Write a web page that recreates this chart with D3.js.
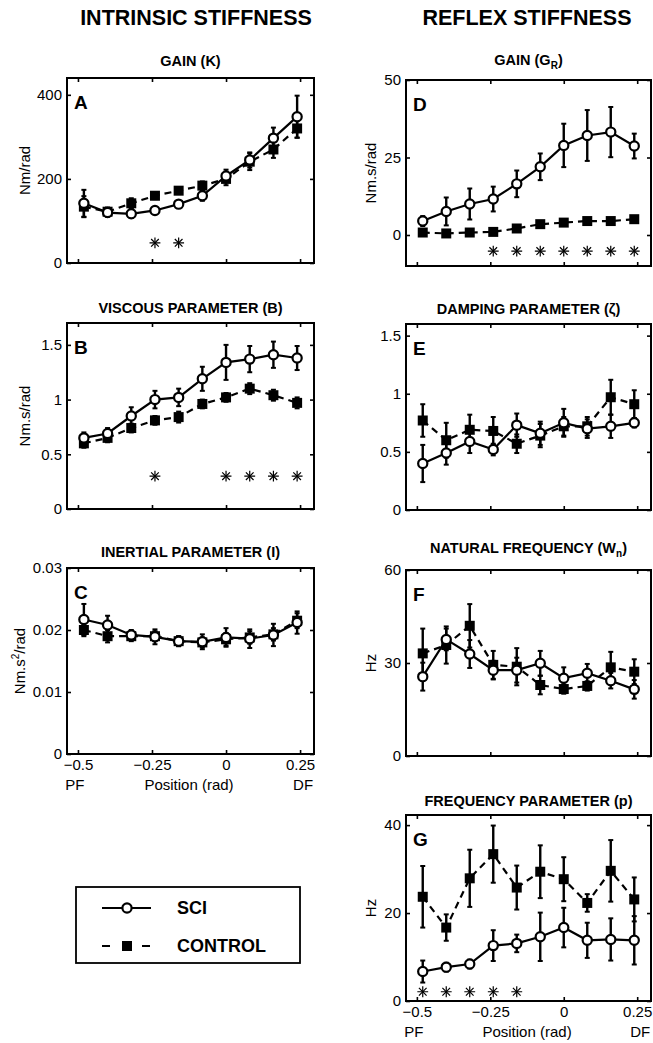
<!DOCTYPE html>
<html>
<head>
<meta charset="utf-8">
<script src="https://cdn.jsdelivr.net/npm/d3@7"></script>
<style>
  body { margin: 0; background: #fff; }
  text { font-family: "Liberation Sans", Arial, Helvetica, sans-serif; fill: #000; }
</style>
</head>
<body>
<div id="chart"></div>
<script>
// positions along the ankle range (rad), same for every panel
var positions = [-0.48, -0.40, -0.32, -0.24, -0.16, -0.08, 0, 0.08, 0.16, 0.24];
var xTicks = [-0.5, -0.25, 0, 0.25];
var seriesNames = ["SCI", "CONTROL"];
var columnTitles = ["INTRINSIC STIFFNESS", "REFLEX STIFFNESS"];
var xLabels = ["PF", "Position (rad)", "DF"];

// A - intrinsic gain K
var gainK_sci = [142, 120, 117, 125, 140, 160, 207, 245, 297, 348];
var gainK_sciErr = [32, 10, 10, 8, 8, 12, 15, 18, 25, 50];
var gainK_ctrl = [134, 122, 142, 160, 172, 184, 200, 241, 270, 320];
var gainK_ctrlErr = [25, 10, 12, 8, 8, 10, 15, 20, 20, 22];
var gainK_stars = [3, 4];
var gainK_ticks = [0, 200, 400];

// B - viscous parameter
var visc_sci = [0.65, 0.69, 0.85, 1.00, 1.02, 1.19, 1.34, 1.37, 1.41, 1.38];
var visc_sciErr = [0.05, 0.05, 0.08, 0.08, 0.08, 0.11, 0.16, 0.12, 0.12, 0.11];
var visc_ctrl = [0.60, 0.65, 0.74, 0.81, 0.84, 0.96, 1.02, 1.10, 1.04, 0.97];
var visc_ctrlErr = [0.04, 0.04, 0.04, 0.04, 0.05, 0.04, 0.04, 0.05, 0.05, 0.05];
var visc_stars = [3, 6, 7, 8, 9];
var visc_ticks = [0, 0.5, 1, 1.5];

// C - inertial parameter
var inert_sci = [0.0217, 0.0208, 0.0192, 0.0189, 0.0182, 0.0181, 0.0188, 0.0186, 0.0192, 0.0212];
var inert_sciErr = [0.0025, 0.0015, 0.0008, 0.0012, 0.0008, 0.0012, 0.0015, 0.0015, 0.0018, 0.0018];
var inert_ctrl = [0.0200, 0.0190, 0.0190, 0.0190, 0.0182, 0.0180, 0.0185, 0.0188, 0.0193, 0.0215];
var inert_ctrlErr = [0.0010, 0.0010, 0.0008, 0.0008, 0.0008, 0.0008, 0.0010, 0.0010, 0.0010, 0.0012];
var inert_stars = [];
var inert_ticks = [0, 0.01, 0.02, 0.03];

// D - reflex gain GR
var gainR_sci = [4.5, 7.6, 10.0, 11.6, 16.5, 22.0, 28.9, 32.1, 33.2, 28.7];
var gainR_sciErr = [1.6, 4.5, 5.0, 4.0, 4.3, 4.3, 7.0, 8.2, 8.1, 4.0];
var gainR_ctrl = [0.8, 0.5, 0.8, 1.0, 2.1, 3.5, 4.0, 4.5, 4.5, 5.1];
var gainR_ctrlErr = [0.6, 0.5, 0.5, 0.6, 0.7, 0.7, 0.8, 0.8, 0.8, 0.8];
var gainR_stars = [3, 4, 5, 6, 7, 8, 9];
var gainR_ticks = [0, 25, 50];

// E - damping parameter
var damp_sci = [0.40, 0.49, 0.59, 0.52, 0.73, 0.66, 0.75, 0.70, 0.72, 0.75];
var damp_sciErr = [0.16, 0.10, 0.10, 0.05, 0.10, 0.10, 0.12, 0.08, 0.10, 0.04];
var damp_ctrl = [0.77, 0.60, 0.69, 0.68, 0.57, 0.64, 0.72, 0.72, 0.97, 0.91];
var damp_ctrlErr = [0.14, 0.15, 0.13, 0.12, 0.08, 0.10, 0.08, 0.08, 0.15, 0.12];
var damp_stars = [];
var damp_ticks = [0, 0.5, 1, 1.5];

// F - natural frequency
var wn_sci = [25.6, 37.6, 32.9, 27.7, 27.7, 29.9, 25.1, 26.7, 24.3, 21.5];
var wn_sciErr = [4.5, 3.5, 4.5, 3.0, 4.0, 4.0, 3.5, 3.0, 2.5, 3.0];
var wn_ctrl = [33.1, 35.8, 42.0, 29.4, 28.8, 22.9, 21.6, 22.6, 28.6, 27.2];
var wn_ctrlErr = [8.0, 6.0, 7.0, 4.5, 6.0, 3.0, 1.5, 1.5, 5.0, 4.0];
var wn_stars = [];
var wn_ticks = [0, 30, 60];

// G - frequency parameter p
var freqP_sci = [6.7, 7.7, 8.4, 12.6, 13.1, 14.6, 16.7, 13.8, 14.0, 13.8];
var freqP_sciErr = [2.5, 1.0, 1.0, 3.5, 2.0, 5.5, 4.5, 4.0, 4.8, 5.5];
var freqP_ctrl = [23.7, 16.7, 27.9, 33.4, 25.8, 29.4, 27.7, 22.3, 29.6, 23.1];
var freqP_ctrlErr = [7.0, 3.0, 6.5, 6.5, 5.0, 6.0, 5.0, 2.0, 7.0, 5.0];
var freqP_stars = [0, 1, 2, 3, 4];
var freqP_ticks = [0, 20, 40];

// layout
var svgWidth = 653, svgHeight = 1043;
var leftCol = { x0: 67, x1: 314, ylabX: 25 };
var rightCol = { x0: 406, x1: 651, ylabX: 371 };
var xDomain = [-0.537, 0.297];

var svg = d3.select("#chart").append("svg")
    .attr("width", svgWidth)
    .attr("height", svgHeight);

var panels = [
  { letter: "A", col: leftCol, top: 78, bottom: 263, yDomain: [0, 440], yTicks: gainK_ticks,
    title: [["GAIN (K)"]], titleDy: 12, ylabel: [["Nm/rad"]],
    sci: gainK_sci, sciErr: gainK_sciErr, ctrl: gainK_ctrl, ctrlErr: gainK_ctrlErr, stars: gainK_stars, starY: 48 },
  { letter: "B", col: leftCol, top: 323, bottom: 509, yDomain: [0, 1.7], yTicks: visc_ticks,
    title: [["VISCOUS PARAMETER (B)"]], titleDy: 10, ylabel: [["Nm.s/rad"]],
    sci: visc_sci, sciErr: visc_sciErr, ctrl: visc_ctrl, ctrlErr: visc_ctrlErr, stars: visc_stars, starY: 0.3 },
  { letter: "C", col: leftCol, top: 568, bottom: 754, yDomain: [0, 0.03], yTicks: inert_ticks,
    title: [["INERTIAL PARAMETER (I)"]], titleDy: 11, ylabel: [["Nm.s"], ["2", "sup"], ["/rad"]], ylabX: 20,
    sci: inert_sci, sciErr: inert_sciErr, ctrl: inert_ctrl, ctrlErr: inert_ctrlErr, stars: inert_stars, xLabels: true },
  { letter: "D", col: rightCol, top: 80, bottom: 266, yDomain: [-10, 50], yTicks: gainR_ticks,
    title: [["GAIN (G"], ["R", "sub"], [")"]], titleDy: 15, ylabel: [["Nm.s/rad"]],
    sci: gainR_sci, sciErr: gainR_sciErr, ctrl: gainR_ctrl, ctrlErr: gainR_ctrlErr, stars: gainR_stars, starY: -5.2 },
  { letter: "E", col: rightCol, top: 324, bottom: 510, yDomain: [0, 1.6], yTicks: damp_ticks,
    title: [["DAMPING PARAMETER (\u03B6)"]], titleDy: 10, ylabel: null,
    sci: damp_sci, sciErr: damp_sciErr, ctrl: damp_ctrl, ctrlErr: damp_ctrlErr, stars: damp_stars },
  { letter: "F", col: rightCol, top: 570, bottom: 756, yDomain: [0, 60], yTicks: wn_ticks,
    title: [["NATURAL FREQUENCY (W"], ["n", "sub"], [")"]], titleDy: 17, ylabel: [["Hz"]],
    sci: wn_sci, sciErr: wn_sciErr, ctrl: wn_ctrl, ctrlErr: wn_ctrlErr, stars: wn_stars },
  { letter: "G", col: rightCol, top: 815, bottom: 1001, yDomain: [0, 42.3], yTicks: freqP_ticks,
    title: [["FREQUENCY PARAMETER (p)"]], titleDy: 9, ylabel: [["Hz"]],
    sci: freqP_sci, sciErr: freqP_sciErr, ctrl: freqP_ctrl, ctrlErr: freqP_ctrlErr, stars: freqP_stars, starY: 2.1, xLabels: true }
];

// plain number labels, no padded zeros, true minus sign
var fmtNum = function(d) { return (d < 0 ? "\u2212" : "") + String(Math.abs(d)); };

// column headers
svg.selectAll(".colTitle")
   .data(columnTitles)
   .enter().append("text")
   .attr("x", function(d, i) { return i === 0 ? 196 : 527; })
   .attr("y", 25)
   .attr("text-anchor", "middle")
   .attr("font-size", "21.5px")
   .attr("font-weight", "bold")
   .text(function(d) { return d; });

function addParts(textSel, parts, small) {
  parts.forEach(function(p, k) {
    var ts = textSel.append("tspan").text(p[0]);
    if (p[1] === "sub") ts.attr("dy", 4).attr("font-size", small);
    else if (p[1] === "sup") ts.attr("dy", -6).attr("font-size", small);
    else if (k > 0 && parts[k - 1][1] === "sub") ts.attr("dy", -4);
    else if (k > 0 && parts[k - 1][1] === "sup") ts.attr("dy", 6);
  });
}

panels.forEach(function(p) {
  var xScale = d3.scaleLinear().domain(xDomain).range([p.col.x0, p.col.x1]);
  var yScale = d3.scaleLinear().domain(p.yDomain).range([p.bottom, p.top]);
  var g = svg.append("g");
  var midX = (p.col.x0 + p.col.x1) / 2;

  // title
  var t = g.append("text")
    .attr("x", midX).attr("y", p.top - p.titleDy)
    .attr("text-anchor", "middle")
    .attr("font-size", "14.5px").attr("font-weight", "bold");
  addParts(t, p.title, "10px");

  // axes, ticks inward on all four sides
  var bottomAxis = d3.axisBottom(xScale).tickValues(xTicks).tickSizeInner(-4).tickSizeOuter(0).tickPadding(5)
      .tickFormat(p.xLabels ? fmtNum : "");
  var topAxis = d3.axisTop(xScale).tickValues(xTicks).tickSizeInner(-4).tickSizeOuter(0).tickFormat("");
  var leftAxis = d3.axisLeft(yScale).tickValues(p.yTicks).tickSizeInner(-4).tickSizeOuter(0).tickPadding(5)
      .tickFormat(fmtNum);
  var rightAxis = d3.axisRight(yScale).tickValues(p.yTicks).tickSizeInner(-4).tickSizeOuter(0).tickFormat("");

  var axes = [
    [bottomAxis, "translate(0," + p.bottom + ")"],
    [topAxis, "translate(0," + p.top + ")"],
    [leftAxis, "translate(" + p.col.x0 + ",0)"],
    [rightAxis, "translate(" + p.col.x1 + ",0)"]
  ];
  axes.forEach(function(a) {
    var ag = g.append("g").attr("transform", a[1]).call(a[0]);
    ag.select(".domain").remove();
    ag.selectAll("line").attr("stroke", "#000").attr("stroke-width", 1.6);
    ag.selectAll("text")
      .attr("font-family", "'Liberation Sans', Arial, sans-serif")
      .attr("font-size", "15px")
      .attr("fill", "#000");
  });

  // frame
  g.append("rect")
    .attr("x", p.col.x0).attr("y", p.top)
    .attr("width", p.col.x1 - p.col.x0).attr("height", p.bottom - p.top)
    .attr("fill", "none").attr("stroke", "#000").attr("stroke-width", 2);

  // panel letter
  g.append("text")
    .attr("x", p.col.x0 + 7).attr("y", p.top + 31)
    .attr("font-size", "19px").attr("font-weight", "bold")
    .text(p.letter);

  // y label
  if (p.ylabel) {
    var yl = g.append("text")
      .attr("transform", "translate(" + (p.ylabX || p.col.ylabX) + "," + ((p.top + p.bottom) / 2) + ") rotate(-90)")
      .attr("text-anchor", "middle")
      .attr("dy", "0.35em")
      .attr("font-size", "15px");
    addParts(yl, p.ylabel, "10px");
  }

  // x labels under bottom panels
  if (p.xLabels) {
    g.selectAll(".xlab")
      .data(xLabels)
      .enter().append("text")
      .attr("x", function(d, i) {
        return i === 0 ? xScale(-0.5) - 3 : i === 1 ? xScale(-0.125) : xScale(0.25) + 3;
      })
      .attr("y", p.bottom + 36)
      .attr("text-anchor", "middle")
      .attr("font-size", "15px")
      .text(function(d) { return d; });
  }

  var series = [
    { vals: p.ctrl, errs: p.ctrlErr, dash: "7,5", kind: "square" },
    { vals: p.sci, errs: p.sciErr, dash: null, kind: "circle" }
  ];

  series.forEach(function(s) {
    var line = d3.line()
      .x(function(d, i) { return xScale(positions[i]); })
      .y(function(d) { return yScale(d); });

    g.append("path")
      .datum(s.vals)
      .attr("d", line)
      .attr("fill", "none")
      .attr("stroke", "#000")
      .attr("stroke-width", 2.2)
      .attr("stroke-dasharray", s.dash);

    var eb = g.append("g").selectAll("g")
      .data(s.vals)
      .enter().append("g");
    eb.append("line")
      .attr("x1", function(d, i) { return xScale(positions[i]); })
      .attr("x2", function(d, i) { return xScale(positions[i]); })
      .attr("y1", function(d, i) { return yScale(d - s.errs[i]); })
      .attr("y2", function(d, i) { return yScale(d + s.errs[i]); })
      .attr("stroke", "#000").attr("stroke-width", 2.4);
    [-1, 1].forEach(function(sign) {
      eb.append("line")
        .attr("x1", function(d, i) { return xScale(positions[i]) - 2.5; })
        .attr("x2", function(d, i) { return xScale(positions[i]) + 2.5; })
        .attr("y1", function(d, i) { return yScale(d + sign * s.errs[i]); })
        .attr("y2", function(d, i) { return yScale(d + sign * s.errs[i]); })
        .attr("stroke", "#000").attr("stroke-width", 2);
    });

    if (s.kind === "circle") {
      g.selectAll(null)
        .data(s.vals)
        .enter().append("circle")
        .attr("cx", function(d, i) { return xScale(positions[i]); })
        .attr("cy", function(d) { return yScale(d); })
        .attr("r", 4.6)
        .attr("fill", "#fff")
        .attr("stroke", "#000")
        .attr("stroke-width", 2.2);
    } else {
      g.selectAll(null)
        .data(s.vals)
        .enter().append("path")
        .attr("transform", function(d, i) { return "translate(" + xScale(positions[i]) + "," + yScale(d) + ")"; })
        .attr("d", d3.symbol(d3.symbolSquare, 100))
        .attr("fill", "#000");
    }
  });

  // significance stars (8-armed asterisks)
  var star = d3.symbol(d3.symbolTimes, 40);
  p.stars.forEach(function(idx) {
    [0, 45].forEach(function(rot) {
      g.append("path")
        .attr("transform", "translate(" + xScale(positions[idx]) + "," + yScale(p.starY) + ") rotate(" + rot + ")")
        .attr("d", star)
        .attr("fill", "none")
        .attr("stroke", "#000")
        .attr("stroke-width", 1.2);
    });
  });
});

// legend
var legend = svg.append("g");
legend.append("rect")
  .attr("x", 76).attr("y", 887).attr("width", 224).attr("height", 76)
  .attr("fill", "none").attr("stroke", "#000").attr("stroke-width", 1.8);

var legY = [908, 946];
seriesNames.forEach(function(name, i) {
  var y = legY[i];
  legend.append("line")
    .attr("x1", 102).attr("x2", 151).attr("y1", y).attr("y2", y)
    .attr("stroke", "#000").attr("stroke-width", 2.2)
    .attr("stroke-dasharray", i === 0 ? null : "8,12");
  if (i === 0) {
    legend.append("circle").attr("cx", 127).attr("cy", y).attr("r", 4.6)
      .attr("fill", "#fff").attr("stroke", "#000").attr("stroke-width", 2.2);
  } else {
    legend.append("path").attr("transform", "translate(127," + y + ")")
      .attr("d", d3.symbol(d3.symbolSquare, 100)).attr("fill", "#000");
  }
  legend.append("text")
    .attr("x", 177).attr("y", y).attr("dy", "0.35em")
    .attr("font-size", "18px").attr("font-weight", "bold")
    .text(name);
});
</script>
</body>
</html>
